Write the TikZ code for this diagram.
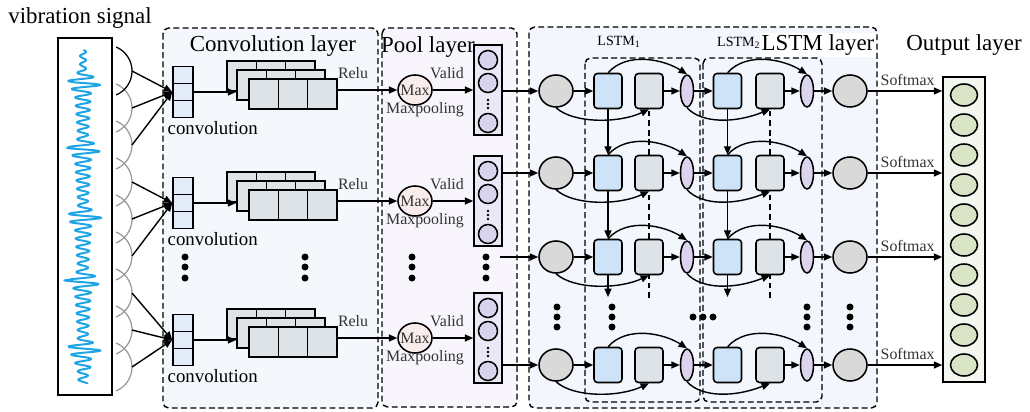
\documentclass[tikz,border=0pt]{standalone}
\usepackage{fontspec}
\setmainfont{Liberation Serif}
\usetikzlibrary{arrows.meta,shapes.geometric}
\def\px{0.025cm}
\definecolor{convbg}{HTML}{F4F7FC}
\definecolor{poolbg}{HTML}{F8F6FC}
\definecolor{lstmbg}{HTML}{F3F6FC}
\definecolor{cellblue}{HTML}{E2EBF7}
\definecolor{fmgray}{HTML}{DDE3E7}
\definecolor{maxpink}{HTML}{F9ECEC}
\definecolor{pcolbg}{HTML}{EAE7F6}
\definecolor{pcirc}{HTML}{D9D4EE}
\definecolor{ellgray}{HTML}{D9D9D9}
\definecolor{lblue}{HTML}{CFE3F8}
\definecolor{lgray}{HTML}{DDE3E6}
\definecolor{lpurple}{HTML}{DCD4EE}
\definecolor{outgreen}{HTML}{D9E4C7}
\definecolor{outbg}{HTML}{F4F6F0}
\definecolor{sigblue}{HTML}{1EA5E6}
\definecolor{arcgray}{HTML}{9A9A9A}
\definecolor{labgray}{HTML}{333333}
\begin{document}
\begin{tikzpicture}[x=0.025cm, y=-0.025cm,
  declare function={bump(\yy,\mm,\ww)=(cos(min(90,abs(((\yy-\mm)/\ww)*90))))^2;
    dec(\yy,\mm)=(\yy>\mm)*max(0,1-(\yy-\mm)/55);
    env(\yy)=5+10*bump(\yy,82,11)+10*bump(\yy,148,11)+10*bump(\yy,216,11)+10*bump(\yy,280,11)+10*bump(\yy,348,11)
      +4*dec(\yy,82)+4*dec(\yy,148)+4*dec(\yy,216)+4*dec(\yy,280)+4*dec(\yy,348)-2*(\yy<70)-2*(\yy>370);},
  arr/.style={line width=1pt, -{Triangle[length=6pt,width=5pt]}},
  layerbox/.style={draw, line width=1pt, dash pattern=on 4.2pt off 2.4pt, rounded corners=4pt},
  dline/.style={line width=1pt, dash pattern=on 4.2pt off 2.6pt},
  convcell/.style={draw, line width=1.1pt, fill=cellblue, minimum width=20*\px, minimum height=17*\px, inner sep=0pt},
  fmcell/.style={draw, line width=1.1pt, fill=fmgray, minimum width=29.33*\px, minimum height=30*\px, inner sep=0pt},
  maxnode/.style={ellipse, draw, line width=1.1pt, fill=maxpink, minimum width=34*\px, minimum height=30*\px, inner sep=0pt},
  poolcol/.style={draw, line width=1.1pt, fill=pcolbg, minimum width=28*\px, minimum height=90*\px, inner sep=0pt},
  poolcirc/.style={circle, draw, line width=1.1pt, fill=pcirc, minimum size=19*\px, inner sep=0pt},
  inell/.style={ellipse, draw, line width=1.1pt, fill=ellgray, minimum width=34*\px, minimum height=32*\px, inner sep=0pt},
  bluebox/.style={draw, rounded corners=2.5pt, line width=1.1pt, fill=lblue, minimum width=28*\px, minimum height=35*\px, inner sep=0pt},
  graybox/.style={bluebox, fill=lgray},
  purp/.style={ellipse, draw, line width=1.1pt, fill=lpurple, minimum width=13*\px, minimum height=32*\px, inner sep=0pt},
  outcol/.style={draw, line width=1.1pt, fill=outbg, minimum width=42*\px, minimum height=305*\px, inner sep=0pt},
  outcirc/.style={ellipse, draw, line width=1.1pt, fill=outgreen, minimum width=27*\px, minimum height=22*\px, inner sep=0pt},
  dotn/.style={circle, fill=black, minimum size=7*\px, inner sep=0pt},
  smalldot/.style={circle, fill=black, minimum size=2.8*\px, inner sep=0pt},
  title/.style={font=\fontsize{16.3}{18}\selectfont, inner sep=1pt},
  sublab/.style={font=\fontsize{10}{12}\selectfont, inner sep=1pt},
  lab/.style={font=\fontsize{11.3}{13}\selectfont, text=labgray, inner sep=1pt},
  clab/.style={font=\fontsize{13.4}{15}\selectfont, inner sep=1pt},
]
\useasboundingbox (0,0) rectangle (1030,412);

% layer backgrounds
\path[layerbox, fill=convbg] (163,28) rectangle (378,408);
\path[layerbox, fill=poolbg] (382,28) rectangle (517,407);
\path[layerbox, fill=lstmbg] (529,27) rectangle (877,408);
\path[layerbox] (585,58) rectangle (700,402);
\path[layerbox] (703,58) rectangle (822,402);

% titles
\node[title] (tsig) at (80,18) {vibration signal};
\node[title] (tconv) at (273,46) {Convolution layer};
\node[title] (tpool) at (428,47) {Pool layer};
\node[title, fill=white] (tlstm) at (818,45) {LSTM layer};
\node[sublab] (tl1) at (619,42) {LSTM\textsubscript{1}};
\node[sublab, anchor=east] (tl2) at (762,43) {LSTM\textsubscript{2}};
\node[title] (tout) at (964,45) {Output layer};

% signal
\node[draw, line width=1.1pt, fill=white, minimum width=54*\px, minimum height=357*\px, inner sep=0pt] (sig) at (85,216.5) {};
\draw[sigblue, line width=1.4pt, line join=round] plot[domain=50:384, samples=900] ({83+env(\x)*sin(43.37*mod(\x,8.3))}, \x);

% window arcs
\foreach \k in {1,...,8}
  \draw[arcgray, line width=0.9pt] plot[domain=-67:67, samples=30] ({106+26*cos(\x)}, {71+37*\k+26*sin(\x)});
\draw[black, line width=0.9pt] plot[domain=-67:67, samples=30] ({106+26*cos(\x)}, {71+26*sin(\x)});
\foreach \k in {0,...,8} \coordinate (pk\k) at (132,{71+37*\k});

% convolution and pooling rows
\foreach \rr/\cy in {1/92,2/203,4/340} {
  \node[convcell] (cv\rr-1) at (183,\cy-17) {};
  \node[convcell] (cv\rr-2) at (183,\cy) {};
  \node[convcell] (cv\rr-3) at (183,\cy+17) {};
  \node[clab, anchor=west] (cl\rr) at (166,\cy+36) {convolution};
  \foreach \L/\lx/\ly in {1/227/-31, 2/237/-22, 3/249/-13} {
    \foreach \k in {1,2,3}
      \node[fmcell] (fm\rr-\L-\k) at ({\lx+14.67+29.33*(\k-1)}, {\cy+\ly+15}) {};
  }
  \draw[arr] (cv\rr-2.east) -- (fm\rr-2-1.west |- cv\rr-2.east);
  \node[maxnode] (mx\rr) at (415,\cy-2) {};
  \node[lab] (mxt\rr) at (mx\rr) {Max};
  \draw[arr] (fm\rr-3-3.east |- mx\rr.west) -- (mx\rr.west);
  \node[lab] (relu\rr) at (353,\cy-19) {Relu};
  \node[lab] (valid\rr) at (447,\cy-19) {Valid};
  \node[lab] (mp\rr) at (425,\cy+18) {Maxpooling};
  \node[poolcol] (pc\rr) at (488,\cy-2) {};
  \node[poolcirc] (pa\rr) at (488,\cy-32) {};
  \node[poolcirc] (pb\rr) at (488,\cy-9) {};
  \node[poolcirc] (pd\rr) at (488,\cy+31) {};
  \node[smalldot] (sd\rr-1) at (488,\cy+8) {};
  \node[smalldot] (sd\rr-2) at (488,\cy+12) {};
  \node[smalldot] (sd\rr-3) at (488,\cy+16) {};
  \draw[arr] (mx\rr.east) -- (pc\rr.west |- mx\rr.east);
}

% arrows from signal windows
\foreach \rr/\pa/\pb/\pc in {1/0/1/2, 2/3/4/5, 4/6/7/8} {
  \foreach \k in {\pa,\pb,\pc} \draw[arr] (pk\k) -- (cv\rr-2.west);
}

% output column
\node[outcol] (ocol) at (964,229.5) {};
\foreach \k in {0,...,9} \node[outcirc] (oc\k) at (964,{95+30*\k}) {};

% LSTM rows
\foreach \ri/\y in {1/91,2/173,3/257,4/365} {
  \node[inell] (in\ri) at (556,\y) {};
  \node[bluebox] (b\ri) at (608,\y) {};
  \node[graybox] (g\ri) at (649,\y) {};
  \node[purp] (p\ri) at (687,\y) {};
  \node[bluebox] (bb\ri) at (727.5,\y) {};
  \node[graybox] (gg\ri) at (770,\y) {};
  \node[purp] (pp\ri) at (807,\y) {};
  \node[inell] (o\ri) at (850,\y) {};
  \draw[arr] (in\ri.east) -- (b\ri.west);
  \draw[arr] (g\ri.east) -- (p\ri.west);
  \draw[arr] (p\ri.east) -- (bb\ri.west);
  \draw[arr] (gg\ri.east) -- (pp\ri.west);
  \draw[arr] (pp\ri.east) -- (o\ri.west);
  \draw[arr] (o\ri.east) -- (ocol.west |- o\ri.east);
  \node[lab, anchor=west] (sm\ri) at (879,\y-11) {Softmax};
  \draw[arr] (b\ri.north) .. controls +(20,-22) and +(-22,-14) .. (p\ri.north);
  \draw[arr] (bb\ri.north) .. controls +(20,-22) and +(-22,-14) .. (pp\ri.north);
  \draw[arr] (in\ri.south) .. controls +(18,16) and +(-30,14) .. (g\ri.south);
  \draw[arr] (p\ri.south) .. controls +(15,16) and +(-35,14) .. (gg\ri.south);
}

% pool -> LSTM
\draw[arr] (pc1.east |- in1.west) -- (in1.west);
\draw[arr] (pc2.east |- in2.west) -- (in2.west);
\draw[arr] (pc4.east |- in4.west) -- (in4.west);
\coordinate (p3s) at (500,257);
\draw[arr] (p3s) -- (in3.west);

% vertical connections between LSTM rows
\draw[arr] (b1.south) -- (b2.north);
\draw[arr] (b2.south) -- (b3.north);
\draw[arr] (bb1.south) -- (bb2.north);
\draw[arr] (bb2.south) -- (bb3.north);
\coordinate (bstub) at (608,297);
\coordinate (bbstub) at (727.5,297);
\draw[arr] (b3.south) -- (bstub);
\draw[arr] (bb3.south) -- (bbstub);
\draw[dline] (g2.north) -- (g1.south);
\draw[dline] (g3.north) -- (g2.south);
\draw[dline] (gg2.north) -- (gg1.south);
\draw[dline] (gg3.north) -- (gg2.south);
\coordinate (gstub) at (649,298);
\coordinate (ggstub) at (770,298);
\draw[dline] (gstub) -- (g3.south);
\draw[dline] (ggstub) -- (gg3.south);

% ellipsis dots
\foreach \dx in {185,305,412,486}
  \foreach \dy in {257,267,278}
    \node[dotn] (d\dx-\dy) at (\dx,\dy) {};
\foreach \dx in {557,612,807,850}
  \foreach \dy in {307,317,327}
    \node[dotn] (e\dx-\dy) at (\dx,\dy) {};
\foreach \dx in {693,703,713}
  \node[dotn] (h\dx) at (\dx,317) {};
\end{tikzpicture}
\end{document}
